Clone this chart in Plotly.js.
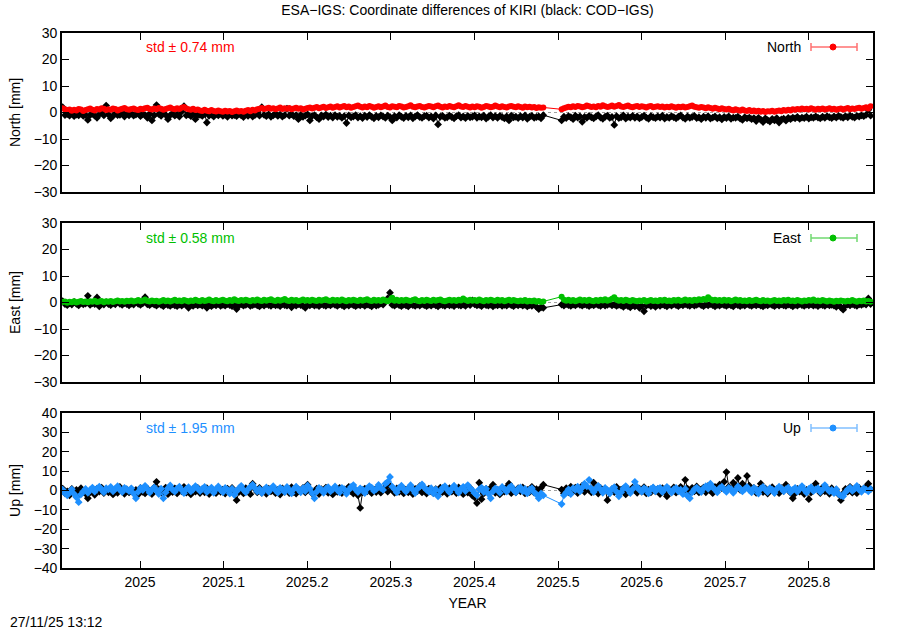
<!DOCTYPE html>
<html>
<head>
<meta charset="utf-8">
<script src="https://cdn.plot.ly/plotly-3.0.1.min.js"></script>
<style>html,body{margin:0;padding:0;background:#fff;}#chart{width:900px;height:630px;}</style>
</head>
<body>
<div id="chart"></div>
<script>
// ---- DATA (daily solutions; null = no solution that day) ----
const firstEpoch = 2024.9075;      // decimal year of first daily solution
const daysPerYear = 365.25;

const northCOD = [
 2.0,-1.0,-0.6,-1.2,0.3,-1.4,-0.8,-1.1,-0.2,-1.3,
 -0.9,-2.8,-1.0,-0.5,-1.2,-2.0,-0.7,0.4,-1.1,2.6,
 -0.8,-2.2,-1.3,-0.4,-1.0,-0.9,0.2,-1.5,-0.6,-1.1,
 -0.3,-1.2,-0.8,0.5,-1.4,-0.7,-1.0,-2.0,-0.5,-3.0,
 -1.1,2.8,-0.6,-1.3,0.1,-0.9,-2.5,-1.0,-0.4,-1.2,
 -0.8,-1.5,0.3,2.4,-1.1,-0.7,-1.4,-0.6,-2.5,-1.0,
 -0.9,-1.3,-0.5,-3.8,-1.2,-0.8,-1.5,-0.6,-1.1,-0.4,
 -1.3,-0.9,-1.6,-0.7,-1.2,-1.0,-1.4,-0.5,-1.1,-1.7,
 -0.8,-1.3,-0.6,-1.5,-1.0,0.4,-1.2,2.0,-0.9,-1.4,
 -0.7,-1.6,-1.1,-0.5,-1.3,-0.8,-1.5,-1.0,1.5,-1.2,
 -0.6,-1.4,-1.0,-2.5,-0.9,-1.6,-1.2,-0.7,-3.0,-1.3,
 -1.0,-1.8,-2.5,-1.1,-1.5,-0.8,-1.7,-1.2,-1.9,-1.0,
 -1.6,-1.3,-2.0,-1.4,-4.0,-1.1,-1.8,-1.5,-1.0,-1.9,
 -1.4,-2.1,-1.2,-1.7,-1.0,-1.6,-2.2,-1.3,-1.8,-1.1,
 -1.5,-2.0,-1.2,-1.7,-3.0,-1.4,-1.9,-1.0,-1.6,-2.1,
 -1.3,-1.8,-1.1,-2.2,-1.5,-1.0,-1.7,-2.0,-1.4,-1.2,
 -1.9,-1.5,-2.3,-1.1,-4.5,-1.6,-1.3,-2.0,-1.8,-1.2,
 -1.7,-2.2,-1.4,-1.0,-1.9,-1.5,-2.1,-1.3,-1.8,-1.6,
 -1.1,-2.0,-1.5,-1.8,-1.2,-2.3,-1.6,-1.0,-1.9,-1.4,
 -2.0,-1.3,-1.7,-2.2,-1.5,-3.0,-1.2,-1.8,-1.6,-2.1,
 -1.4,-1.9,-1.1,-2.4,-1.6,-1.3,-2.0,-1.7,-1.5,-2.2,
 -1.0,null,null,null,null,null,null,null,-3.0,-1.6,
 -2.1,-1.4,-1.8,-2.5,-1.2,-1.9,-1.5,-3.5,-1.7,-2.0,
 -1.3,-1.8,-2.2,-1.5,-1.0,-1.9,-2.4,-1.6,-1.2,-2.0,
 -1.7,-4.7,-1.4,-2.1,-1.8,-1.1,-2.3,-1.6,-1.9,-1.3,
 -2.0,-1.5,-2.2,-1.7,-1.2,-1.9,-2.4,-1.4,-1.8,-2.1,
 -1.5,-1.9,-1.2,-2.3,-1.7,-2.0,-1.4,-1.8,-2.2,-1.6,
 -1.1,-1.9,-2.4,-1.5,-2.0,-1.7,-1.3,-2.1,-1.8,-2.5,
 -1.6,-2.0,-1.4,-2.3,-1.9,-1.5,-2.2,-1.8,-2.6,-1.7,
 -2.1,-1.5,-2.4,-1.9,-2.0,-1.6,-2.3,-2.8,-1.8,-2.2,
 -1.9,-2.5,-2.1,-3.2,-2.0,-2.7,-3.6,-2.2,-2.9,-3.4,
 -2.4,-3.0,-2.1,-3.8,-2.6,-2.3,-3.1,-2.0,-2.5,-1.9,
 -2.2,-1.7,-2.4,-1.9,-2.1,-1.6,-2.3,-1.8,-2.0,-1.5,
 -1.9,-2.2,-1.6,-2.0,-1.4,-1.8,-2.1,-1.5,-1.9,-1.3,
 -1.7,-2.0,-1.4,-1.8,-1.2,-1.6,-1.9,-1.3,-1.5,-1.1,
 -1.4,-0.9,1.0,-1.2
];
const northESA = [
 1.6,1.2,0.9,1.1,0.7,1.0,0.8,1.3,1.1,0.6,
 0.9,1.2,1.5,1.0,0.8,1.3,1.1,1.6,1.4,0.9,
 1.2,1.0,1.5,1.3,0.8,1.1,1.4,1.7,1.2,1.0,
 1.3,1.5,1.1,0.9,1.4,1.2,1.6,1.8,1.3,1.1,
 1.5,1.2,1.7,1.4,1.0,1.3,1.6,1.9,1.4,1.2,
 1.6,1.3,1.8,2.1,1.5,1.2,1.0,1.4,0.9,1.1,
 0.8,0.6,1.0,0.7,0.5,0.9,0.6,0.4,0.8,0.5,
 0.3,0.7,0.4,0.6,0.2,0.5,0.8,0.4,0.6,0.3,
 0.7,0.9,0.5,1.0,0.8,1.2,1.4,1.7,1.3,1.5,
 1.8,1.4,1.6,1.2,1.5,1.9,1.3,1.6,1.4,1.7,
 1.2,1.5,1.8,1.4,1.6,1.1,1.4,1.7,1.9,1.5,
 1.8,2.1,1.6,1.9,2.2,1.7,2.0,2.3,1.8,2.1,
 2.4,1.9,2.2,2.5,2.0,2.3,1.8,2.1,2.4,2.6,
 2.2,1.9,2.3,2.0,2.5,2.2,1.8,2.1,2.4,2.0,
 2.3,2.6,2.1,1.9,2.4,2.2,2.0,2.5,2.3,1.9,
 2.1,2.4,2.7,2.2,2.0,2.3,2.5,2.1,1.9,2.2,
 2.5,2.3,2.0,2.4,2.6,2.2,1.9,2.3,2.1,2.5,
 2.2,2.0,2.4,2.7,2.3,2.1,2.5,2.2,1.9,2.3,
 2.0,2.4,2.2,1.8,2.1,2.5,2.3,2.0,2.2,2.6,
 2.3,2.0,2.4,2.1,1.9,2.3,2.5,2.2,2.0,2.4,
 2.1,1.8,2.3,2.0,2.2,1.9,2.1,1.7,2.0,1.8,
 1.9,null,null,null,null,null,null,null,1.2,1.6,
 1.9,2.2,2.0,2.4,2.1,2.5,2.3,2.0,2.2,2.6,
 2.4,2.1,2.3,2.0,2.5,2.2,2.7,2.4,2.1,2.3,
 2.6,2.2,2.5,2.8,2.3,2.1,2.4,2.6,2.2,2.0,
 2.3,2.5,2.1,2.4,2.2,1.9,2.3,2.5,2.0,2.2,
 2.4,2.1,2.3,1.9,2.2,2.0,2.4,2.1,1.8,2.2,
 2.0,2.3,1.9,2.1,2.4,2.6,2.2,2.0,1.8,2.1,
 1.9,1.6,2.0,1.7,1.4,1.8,1.5,1.2,1.6,1.3,
 1.1,1.4,1.0,0.8,1.2,0.9,0.7,1.1,0.8,0.6,
 0.9,0.5,0.8,0.4,0.7,0.3,0.6,0.2,0.5,0.4,
 0.7,0.3,0.6,0.8,0.5,0.9,0.7,1.0,0.8,1.2,
 1.0,1.3,1.1,1.5,1.2,1.4,1.1,1.6,1.3,1.0,
 1.4,1.2,1.5,1.1,1.3,1.6,1.2,1.4,1.0,1.3,
 1.5,1.1,1.4,1.7,1.2,1.5,1.3,1.6,1.8,1.4,
 1.7,2.0,1.5,2.4
];
const eastCOD = [
 0.5,-0.6,-1.0,-0.3,-0.8,0.2,-0.5,-1.1,-0.2,-0.7,
 -0.4,2.5,-0.9,-0.3,-0.6,1.9,-1.5,-0.4,-0.8,0.1,
 -0.6,-1.0,-0.3,-0.7,0.3,-0.5,-0.9,-0.2,-0.6,-1.1,
 -0.4,-0.8,0.2,-0.5,-0.9,-0.3,2.0,-0.7,-1.0,-0.4,
 -0.8,-1.2,-0.5,-0.9,-1.4,-0.6,-1.0,-1.3,-0.7,-1.1,
 -1.4,-0.8,-1.2,-0.6,-1.0,-2.0,-0.9,-1.3,-0.7,-1.1,
 -0.8,-1.2,-0.6,-2.0,-1.0,-1.4,-0.8,-1.1,-0.5,-1.3,
 -0.9,-1.2,-0.6,-1.0,-1.4,-0.8,-2.5,-1.1,-0.7,-1.2,
 -0.9,-0.5,-1.3,-1.0,-0.7,-1.1,-1.5,-0.8,-1.2,-0.6,
 -1.0,-1.3,-0.7,-1.1,-0.9,-1.4,-0.6,-1.0,-1.2,-0.8,
 -1.8,-0.9,-1.2,-0.6,-1.0,-1.3,-2.0,-0.8,-1.1,-0.7,
 -1.2,-0.9,-1.4,-0.6,-1.0,-1.3,-0.8,-1.1,-0.5,-0.9,
 -1.3,-0.7,-1.0,-1.5,-0.8,-1.2,-0.6,-1.0,-1.4,-0.9,
 -1.1,-0.7,-1.3,-0.8,-1.0,-1.5,-0.6,-1.2,-0.9,-0.4,
 -0.8,0.5,1.5,3.7,-0.9,-1.2,-0.6,-1.0,-1.4,-0.8,
 -1.1,-1.5,-0.7,-1.0,-1.3,-0.8,-1.2,-0.6,-1.0,-1.4,
 -0.9,-1.2,-0.6,-1.1,-1.5,-0.8,-1.0,-1.3,-0.7,-1.1,
 -0.9,-1.4,-0.6,-1.0,-1.2,-0.8,-1.3,-0.5,-1.0,0.8,
 -0.7,-1.1,-0.9,-1.4,-0.6,-1.0,-1.2,-0.8,-1.5,-0.9,
 -1.1,-0.7,-1.3,-0.9,-1.2,-0.6,-1.0,-1.4,-0.8,-1.1,
 -0.7,-1.2,-0.9,-1.5,-1.0,-1.3,-0.8,-1.6,-2.5,-1.8,
 -2.0,null,null,null,null,null,null,null,-0.8,-1.2,
 -0.6,-1.0,-1.3,-0.8,-1.1,-0.5,-0.9,-1.2,-0.7,-1.0,
 -1.4,-0.8,-1.1,-0.6,-1.0,-1.3,-0.7,-1.2,-0.9,-0.5,
 -1.1,-0.8,-1.3,-0.9,-1.2,-1.6,-1.0,-1.4,-1.8,-1.1,
 -1.5,-1.0,-2.0,-1.3,-3.3,-1.2,-0.8,-1.4,-1.0,-1.6,
 -0.9,-1.3,-0.7,-1.1,-1.5,-0.8,-1.2,-0.6,-1.0,-1.4,
 -0.8,-1.1,-0.6,-1.0,-1.3,-0.7,-1.2,-0.9,-0.5,-1.0,
 -1.4,-0.8,-1.1,-0.6,-1.0,-1.5,-0.9,-1.2,-0.7,-1.0,
 -1.3,-0.8,-1.1,-1.5,-0.7,-1.0,-1.4,-0.9,-1.2,-0.6,
 -1.0,-1.3,-0.8,-1.1,-0.7,-1.2,-1.5,-0.9,-1.1,-0.6,
 -1.0,-1.4,-0.8,-1.2,-0.7,-1.1,-1.3,-0.8,-1.0,-1.5,
 -0.9,-1.2,-0.6,-1.0,-1.3,-0.8,-1.1,-0.7,-1.2,-0.9,
 -1.4,-0.8,-1.0,-1.3,-0.7,-1.1,-0.9,-1.2,-1.6,-1.0,
 -1.8,-2.7,-1.2,-0.8,-1.1,-0.6,-1.0,-1.3,-0.7,-0.9,
 -0.5,-0.8,1.5,-0.6
];
const eastESA = [
 0.2,0.4,-0.1,0.3,0.1,0.5,0.0,0.3,0.6,0.2,
 0.4,0.1,0.5,0.3,0.7,0.2,0.4,0.6,0.1,0.5,
 0.3,0.6,0.2,0.5,0.8,0.4,0.6,0.3,0.7,0.5,
 0.8,0.4,0.6,0.9,0.5,0.7,1.1,0.6,0.4,0.8,
 0.5,0.7,0.3,0.6,0.9,0.5,0.8,0.4,0.7,1.0,
 0.6,0.8,0.5,0.9,0.7,0.4,0.8,0.6,1.0,0.7,
 0.5,0.9,0.6,0.8,1.1,0.7,0.5,0.9,0.6,0.8,
 1.0,0.7,0.5,0.9,0.6,1.2,0.8,0.6,0.9,0.7,
 1.0,0.8,0.5,0.9,0.7,1.1,0.8,0.6,1.0,0.7,
 0.9,1.2,0.8,0.6,1.0,0.7,0.9,1.3,0.8,0.6,
 1.0,0.7,0.9,0.5,0.8,1.1,0.7,0.9,0.6,1.0,
 0.8,0.6,1.0,0.7,0.9,1.2,0.8,0.6,1.0,0.7,
 0.9,0.6,1.1,0.8,0.5,0.9,0.7,1.0,0.8,0.6,
 1.0,0.7,0.9,1.2,0.8,0.6,1.0,0.7,0.9,0.6,
 1.1,0.8,0.5,0.9,1.8,0.7,1.0,0.6,0.9,0.7,
 1.0,0.8,0.6,0.9,1.2,0.7,0.5,0.9,0.6,1.0,
 0.8,0.6,1.0,0.7,0.9,1.1,0.7,0.5,0.8,1.0,
 0.7,0.9,0.6,1.0,0.8,1.5,0.9,0.6,1.0,0.7,
 0.9,0.6,1.1,0.8,0.5,0.9,0.7,1.0,0.8,0.6,
 1.0,0.7,0.9,0.5,0.8,1.0,0.6,0.9,0.7,0.5,
 0.8,0.6,0.9,0.4,0.7,0.5,0.8,0.3,0.6,0.2,
 0.4,null,null,null,null,null,null,null,2.2,1.0,
 0.7,1.0,0.6,0.9,0.5,0.8,1.1,0.7,0.9,0.6,
 1.0,0.7,0.5,0.9,0.6,1.0,0.8,1.2,0.7,0.9,
 1.4,2.0,1.0,0.7,0.9,0.6,1.0,0.8,0.5,0.9,
 0.7,0.5,0.8,0.6,0.9,0.4,0.7,0.9,0.6,0.8,
 0.5,0.9,0.7,1.0,0.6,0.8,0.5,0.9,0.7,1.0,
 0.6,0.8,1.1,0.7,0.9,0.6,1.0,0.8,1.2,0.9,
 1.3,1.0,2.0,1.2,0.8,1.0,0.7,0.9,0.6,1.0,
 0.7,0.9,0.5,0.8,1.1,0.7,0.9,0.6,0.8,0.5,
 0.9,0.6,0.8,1.0,0.7,0.5,0.9,0.6,0.8,0.4,
 0.7,0.9,0.6,0.8,0.5,0.9,0.7,1.0,0.6,0.8,
 0.5,0.9,0.7,0.4,0.8,0.6,0.9,0.7,1.1,0.6,
 0.8,0.5,0.9,0.7,0.4,0.8,0.6,0.3,0.7,0.5,
 0.8,0.6,0.4,0.7,0.5,0.9,0.6,0.3,0.7,0.5,
 0.8,0.4,0.6,0.3
];
const upCOD = [
 1.0,-1.5,-0.5,-2.5,0.8,-1.0,0.3,-2.0,1.2,-0.8,
 -1.6,-4.0,-1.0,0.5,-2.2,0.9,-0.6,1.5,-1.3,0.2,
 -0.9,1.1,-2.0,0.4,-1.2,1.8,-0.5,-1.7,0.6,-1.0,
 0.8,-1.4,0.3,-2.1,1.3,-0.7,-1.5,0.9,-0.3,-1.8,
 1.6,4.5,0.7,-1.2,-0.4,1.5,-1.9,0.2,-0.8,1.1,
 -1.5,0.6,-0.5,1.9,-1.1,0.4,-2.0,0.8,-0.6,1.4,
 -1.3,0.3,-0.9,1.2,-1.8,0.7,-0.2,-1.4,1.0,-0.7,
 0.5,-1.6,0.9,-0.4,1.3,-1.1,-5.0,-0.8,0.6,-1.5,
 1.2,-0.3,-1.9,3.5,0.8,-0.9,1.4,-1.2,0.2,-1.7,
 0.9,-0.5,1.6,-1.4,0.3,-2.1,1.1,-0.7,0.5,-1.3,
 1.7,-0.8,-1.6,0.6,-0.2,1.3,-1.0,3.0,0.4,-1.5,
 -0.6,1.0,-1.8,0.7,-0.3,1.5,-1.2,0.2,-2.0,0.8,
 -0.7,1.4,-1.3,0.5,-0.9,1.9,-0.4,-1.6,0.3,-2.5,
 -9.0,-1.0,0.9,-0.5,1.6,-1.4,0.4,-0.8,2.0,-1.1,
 0.6,1.8,-0.6,2.5,0.3,-1.2,1.1,-0.7,1.7,-1.5,
 0.4,-0.9,1.3,-1.8,0.8,-0.3,2.2,-1.0,0.5,-1.6,
 1.0,-0.5,-1.4,0.7,-2.2,1.5,-0.8,0.3,-1.7,1.2,
 -0.6,0.9,-1.3,1.6,-0.4,-1.9,0.7,-1.1,1.3,-2.6,
 -3.5,-6.5,4.0,-4.5,-1.5,0.8,-0.7,1.4,3.0,-1.2,
 0.5,-2.0,1.0,-0.6,1.7,3.5,-1.4,0.6,-0.9,1.2,
 -0.4,1.6,-1.5,0.3,-0.8,1.9,-1.1,0.7,-0.2,1.4,
 3.0,null,null,null,null,null,null,null,0.5,-1.5,
 1.2,-0.9,2.0,-0.4,1.5,-1.3,0.6,2.5,-0.7,1.1,
 0.3,-1.0,4.0,0.8,-1.6,1.3,-0.5,0.9,-5.0,-1.2,
 0.7,-0.8,1.8,-1.4,0.4,1.0,-2.0,0.6,-0.3,1.5,
 0.2,-1.2,0.9,-0.6,1.7,-1.5,0.5,-0.9,1.3,-0.4,
 0.8,-1.8,1.2,-0.5,-3.0,0.6,-0.8,1.6,-1.1,0.3,
 1.9,-0.7,5.5,0.9,-1.3,1.4,-0.4,2.1,-1.0,0.6,
 1.5,-0.9,2.4,0.2,-1.4,1.8,0.5,3.0,1.2,4.5,
 9.5,2.0,0.8,4.0,1.5,6.5,0.3,3.5,1.0,7.5,
 2.5,-0.5,1.3,-1.2,0.6,3.5,-0.8,1.1,-1.6,0.4,
 1.7,-0.9,0.5,-1.4,1.2,-0.3,3.0,0.7,-1.1,-4.0,
 -1.5,0.8,-0.6,1.4,-1.8,0.3,-4.5,-1.0,1.0,3.5,
 0.6,-1.3,1.5,-0.4,0.9,-1.7,1.2,-0.8,0.4,-2.0,
 -5.0,-1.5,0.8,-0.6,1.9,-1.1,0.5,-1.4,1.3,-0.3,
 0.9,2.0,3.5,0.7
];
const upESA = [
 0.5,-1.5,-2.5,-0.8,0.6,-1.8,-3.5,-6.0,-2.0,-0.5,
 0.8,-1.2,0.3,1.5,-0.6,1.0,2.0,0.4,-1.0,1.2,
 0.6,1.8,-0.4,0.9,2.2,0.3,-0.8,1.4,0.7,-0.3,
 1.1,-1.6,-4.0,-0.7,1.3,0.2,2.4,0.8,-1.1,0.5,
 1.6,-0.2,-1.8,0.9,-4.0,-1.0,1.2,2.6,0.4,-0.6,
 1.0,2.0,0.3,-1.4,0.8,1.7,-0.5,0.6,2.3,1.1,
 -0.3,0.9,1.8,-0.8,0.4,1.5,-1.2,0.7,2.1,0.2,
 -0.9,1.3,0.5,-1.6,0.9,-2.2,-0.4,1.1,2.4,0.3,
 -1.0,0.7,1.9,3.0,1.2,-0.5,0.8,-1.3,0.4,1.6,
 -0.7,0.9,2.2,0.1,-1.1,1.4,0.6,-0.8,1.8,0.3,
 -1.5,0.8,2.0,0.5,-0.9,1.2,-0.3,2.6,1.0,-1.4,
 -4.0,-0.6,1.3,0.4,-1.2,0.9,1.7,-0.5,0.6,2.1,
 0.2,-1.0,1.4,0.7,-1.7,0.3,1.9,2.8,0.5,-0.8,
 1.1,0.4,-1.3,0.9,2.3,1.5,-0.2,0.7,2.9,1.4,
 0.3,3.5,4.5,7.0,2.0,0.6,-1.0,1.3,2.5,0.8,
 -0.6,1.1,2.7,0.4,-1.3,0.9,2.0,3.2,1.5,0.3,
 -0.7,1.2,-1.5,0.6,-3.0,-0.4,1.4,2.2,0.5,-0.9,
 1.0,2.5,0.7,-1.1,0.8,1.9,-0.3,2.8,1.2,0.2,
 -1.4,-2.5,0.6,1.5,-0.8,0.9,-1.7,-4.0,-0.5,1.1,
 0.4,-1.2,1.8,0.7,-0.6,1.3,2.2,0.3,-1.0,0.9,
 1.6,-0.4,0.8,-1.5,0.5,1.2,-0.9,-2.0,-4.0,-1.5,
 -2.5,null,null,null,null,null,null,null,-7.0,-2.5,
 -1.0,0.6,-1.8,1.2,0.3,2.0,-0.5,1.5,3.5,2.2,
 5.5,1.0,-0.8,0.9,2.4,0.5,-1.2,1.3,0.2,-1.6,
 0.8,1.7,-0.6,-3.0,-0.9,1.1,2.3,0.4,-1.3,0.7,
 4.5,1.8,0.3,-0.7,1.2,0.5,-1.5,0.8,1.6,-0.4,
 0.9,1.4,-0.8,0.6,1.9,0.2,-1.1,0.7,1.3,-0.5,
 0.4,-1.9,0.8,-2.8,-4.0,-1.0,0.6,1.5,0.3,-0.8,
 1.1,2.2,0.9,3.5,1.7,0.4,-0.9,1.2,2.0,0.5,
 -0.7,1.4,0.8,-1.2,0.3,2.1,1.0,-0.5,0.7,1.8,
 0.2,-1.0,1.3,0.6,-1.6,0.9,1.9,0.4,-0.8,1.2,
 0.5,-1.3,0.8,2.0,1.1,-0.4,0.7,1.5,-0.9,0.3,
 1.4,-0.6,0.9,2.3,0.4,-1.1,0.8,1.7,-0.3,0.6,
 1.2,-0.8,0.5,2.8,1.0,-0.5,0.3,-1.4,0.7,-1.8,
 -2.6,-3.0,-0.9,0.6,1.5,-0.2,0.9,2.4,0.3,-0.7,
 1.1,0.4,-0.5,0.8
];

const xTickVals = [2025, 2025.1, 2025.2, 2025.3, 2025.4, 2025.5, 2025.6, 2025.7, 2025.8];
const xTickText = ['2025','2025.1','2025.2','2025.3','2025.4','2025.5','2025.6','2025.7','2025.8'];
const xRange = [2024.9067, 2025.8768];
const componentNames = ['North', 'East', 'Up'];
const stdValues = ['0.74', '0.58', '1.95'];

// ---- STYLE / LAYOUT ----
const epochs = northCOD.map((_, i) => firstEpoch + i / daysPerYear);
const FONT = 'Liberation Sans, Arial, Helvetica, sans-serif';
const colors = ['#ff0000', '#00c000', '#1e90ff'];
const lightColors = ['#ff7070', '#70d870', '#80bfff'];
const esaMarker = ['circle', 'circle', 'diamond'];
const codSeries = [northCOD, eastCOD, upCOD];
const esaSeries = [northESA, eastESA, upESA];

// pixel helpers for layout positions (plot area: x 62..873, y 33..568)
const PL = 62, PR = 873, PT = 33, PB = 568;
const px = p => (p - PL) / (PR - PL);
const py = p => (PB - p) / (PB - PT);
const panelPix = [[33, 192], [223, 382], [413, 568]];
const legendY = [47, 238, 428];

const traces = [];
for (let k = 0; k < 3; k++) {
  const xa = k === 0 ? 'x' : 'x' + (k + 1);
  const ya = k === 0 ? 'y' : 'y' + (k + 1);
  traces.push({
    x: epochs, y: codSeries[k], xaxis: xa, yaxis: ya, type: 'scatter',
    mode: 'lines+markers', connectgaps: true, showlegend: false,
    line: {color: '#000000', width: 1},
    marker: {color: '#000000', symbol: 'diamond', size: 6}
  });
  traces.push({
    x: epochs, y: esaSeries[k], xaxis: xa, yaxis: ya, type: 'scatter',
    mode: 'lines+markers', connectgaps: true, showlegend: false,
    line: {color: colors[k], width: 1},
    marker: {color: colors[k], symbol: esaMarker[k], size: 6}
  });
}

const layout = {
  width: 900, height: 630,
  paper_bgcolor: '#ffffff', plot_bgcolor: '#ffffff',
  margin: {l: 62, r: 27, t: 33, b: 62},
  font: {family: FONT, size: 14, color: '#000000'},
  showlegend: false,
  title: {
    text: 'ESA\u2212IGS: Coordinate differences of KIRI (black: COD\u2212IGS)',
    x: 0.5, xref: 'paper', xanchor: 'center',
    y: 1 - 10 / 630, yref: 'container', yanchor: 'middle',
    font: {family: FONT, size: 14, color: '#000000'}
  },
  shapes: [], annotations: []
};

for (let k = 0; k < 3; k++) {
  const sfx = k === 0 ? '' : String(k + 1);
  const dom = [py(panelPix[k][1]), py(panelPix[k][0])];
  layout['xaxis' + sfx] = {
    range: xRange, anchor: 'y' + sfx, domain: [0, 1],
    tickmode: 'array', tickvals: xTickVals, ticktext: xTickText,
    showticklabels: k === 2,
    ticks: 'inside', ticklen: 7, tickwidth: 1, tickcolor: '#000',
    showline: true, linecolor: '#000', linewidth: 1.8, mirror: 'ticks',
    showgrid: false, zeroline: false,
    tickfont: {family: FONT, size: 14},
    title: k === 2 ? {text: 'YEAR', standoff: 10, font: {family: FONT, size: 14}} : {text: ''}
  };
  layout['yaxis' + sfx] = {
    range: k === 2 ? [-40, 40] : [-30, 30], domain: dom, anchor: 'x' + sfx,
    dtick: 10, tick0: 0,
    ticks: 'inside', ticklen: 7, tickwidth: 1, tickcolor: '#000',
    showline: true, linecolor: '#000', linewidth: 1.8, mirror: 'ticks',
    showgrid: false, zeroline: false,
    tickfont: {family: FONT, size: 14},
    title: {text: componentNames[k] + ' [mm]', standoff: 10, font: {family: FONT, size: 14}}
  };
  // dotted zero line
  layout.shapes.push({
    type: 'line', xref: 'x' + sfx + ' domain', x0: 0, x1: 1,
    yref: 'y' + sfx, y0: 0, y1: 0, layer: 'below',
    line: {color: '#a0a0a0', width: 1, dash: 'dot'}
  });
  // std text
  layout.annotations.push({
    xref: 'paper', yref: 'paper', x: px(144), y: py(legendY[k]),
    xanchor: 'left', yanchor: 'middle', showarrow: false,
    text: 'std \u00b1 ' + stdValues[k] + ' mm',
    font: {family: FONT, size: 14, color: colors[k]}
  });
  // key label
  layout.annotations.push({
    xref: 'paper', yref: 'paper', x: px(803), y: py(legendY[k]),
    xanchor: 'right', yanchor: 'middle', showarrow: false,
    text: componentNames[k],
    font: {family: FONT, size: 14, color: '#000'}
  });
  // key sample: error-bar line with caps and a dot
  const yk = py(legendY[k]);
  layout.shapes.push({type: 'line', xref: 'paper', yref: 'paper',
    x0: px(811), x1: px(857), y0: yk, y1: yk, line: {color: lightColors[k], width: 1.5}});
  [811, 857].forEach(xp => layout.shapes.push({type: 'line', xref: 'paper', yref: 'paper',
    x0: px(xp), x1: px(xp), y0: py(legendY[k] - 4), y1: py(legendY[k] + 4),
    line: {color: lightColors[k], width: 1.5}}));
  layout.shapes.push({type: 'circle', xref: 'paper', yref: 'paper',
    x0: px(830), x1: px(836), y0: py(legendY[k] + 3), y1: py(legendY[k] - 3),
    fillcolor: colors[k], line: {color: colors[k], width: 1}});
}

layout.annotations.push({
  xref: 'paper', yref: 'paper', x: px(8), y: py(622),
  xanchor: 'left', yanchor: 'middle', showarrow: false,
  text: '27/11/25 13:12', font: {family: FONT, size: 14, color: '#000'}
});

Plotly.newPlot('chart', traces, layout, {displayModeBar: false, staticPlot: true});
</script>
</body>
</html>
